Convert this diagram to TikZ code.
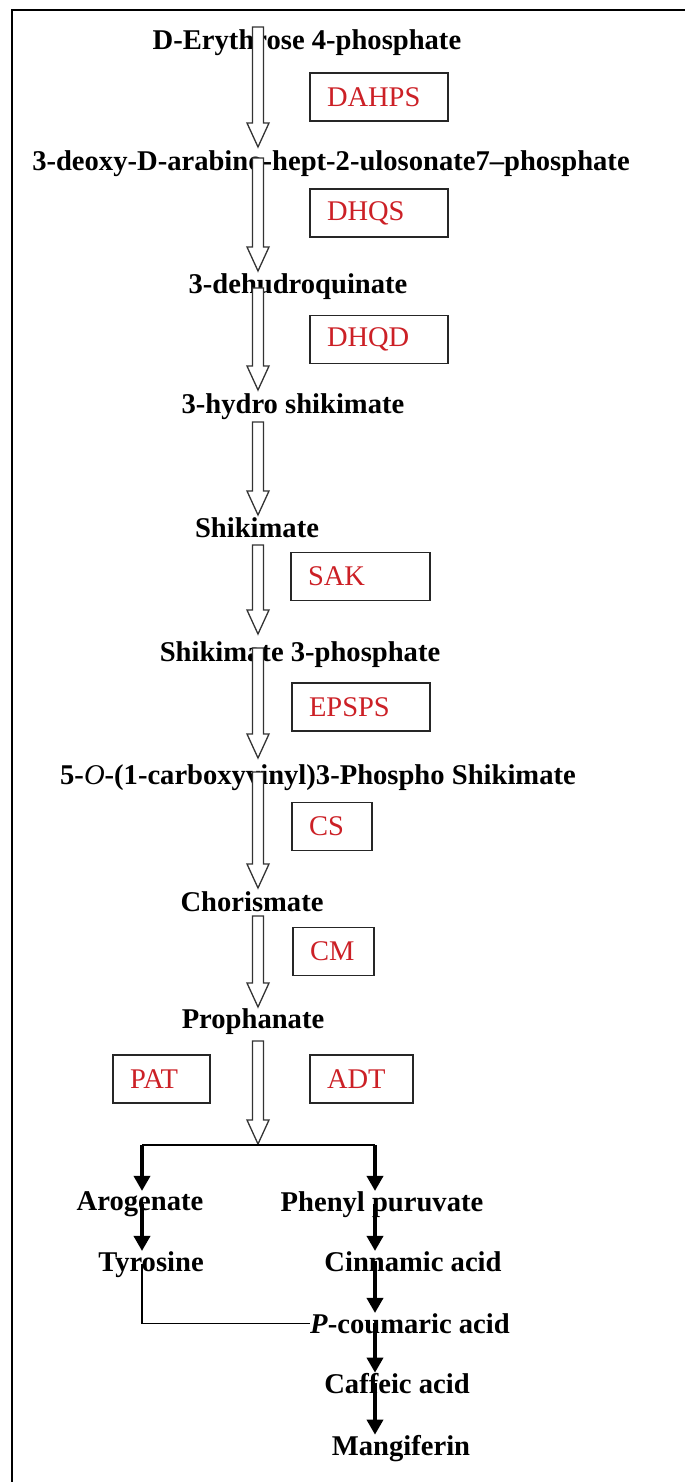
\documentclass[tikz,border=0pt]{standalone}
\usepackage{fontspec}
\setmainfont{Liberation Serif}
\usetikzlibrary{arrows.meta,calc}
\definecolor{enzred}{RGB}{204,32,38}
\newcommand{\hollowarr}[2]{%
  \draw[hollow] let \p1=(#1), \p2=(#2) in
    ({\x1-5.5pt},{\y1}) -- ({\x1+5.5pt},{\y1}) -- ({\x1+5.5pt},{\y2+24pt}) --
    ({\x1+11pt},{\y2+24pt}) -- ({\x1},{\y2}) -- ({\x1-11pt},{\y2+24pt}) --
    ({\x1-5.5pt},{\y2+24pt}) -- cycle;}
\begin{document}
\begin{tikzpicture}[x=1pt,y=-1pt,
  lbl/.style={anchor=base,inner sep=0pt,font=\fontsize{28.6}{30}\selectfont\bfseries},
  ebox/.style={draw=black!85,line width=1.8pt,inner xsep=17pt,inner ysep=0pt,align=left,
    text=enzred,font=\fontsize{28.5}{30}\selectfont,minimum height=48pt},
  hollow/.style={draw=black!80,line width=1.3pt,fill=white,line join=miter},
  tarrow/.style={line width=3.5pt,-{Triangle[width=16pt,length=15pt]}},
  thinline/.style={line width=1.4pt},
  frame/.style={line width=2.6pt}]
\useasboundingbox (0,0) rectangle (685,1482);
\fill[white] (0,0) rectangle (685,1482);
% frame (left and top edges)
\coordinate (fBL) at (12,1482);
\coordinate (fTL) at (12,10);
\coordinate (fTR) at (685,10);
\draw[frame] (fBL) -- (fTL) -- (fTR);

% metabolite labels
\node[lbl] (ery)   at (307,50)   {D-Erythrose 4-phosphate};
\node[lbl] (deoxy) at (331,171)  {3-deoxy-D-arabino-hept-2-ulosonate7–phosphate};
\node[lbl] (dehyd) at (298,293)  {3-dehudroquinate};
\node[lbl] (hydro) at (293,413)  {3-hydro shikimate};
\node[lbl] (shik)  at (257,537)  {Shikimate};
\node[lbl] (s3p)   at (300,661)  {Shikimate 3-phosphate};
\node[lbl] (epsp)  at (318,784)  {5-{\mdseries\itshape O}-(1-carboxyvinyl)3-Phospho Shikimate};
\node[lbl] (chor)  at (252,911)  {Chorismate};
\node[lbl] (proph) at (253,1028) {Prophanate};
\node[lbl] (aro)   at (140,1210) {Arogenate};
\node[lbl] (phen)  at (382,1211) {Phenyl puruvate};
\node[lbl] (tyr)   at (151,1271) {Tyrosine};
\node[lbl] (cinn)  at (413,1271) {Cinnamic acid};
\node[lbl] (pcou)  at (410,1333) {\textit{P}-coumaric acid};
\node[lbl] (caff)  at (397,1393) {Caffeic acid};
\node[lbl] (mang)  at (401,1455) {Mangiferin};

% enzyme boxes
\node[ebox,minimum width=138pt,text width=104pt] (dahps) at (379,97)   {DAHPS};
\node[ebox,minimum width=138pt,text width=104pt] (dhqs)  at (379,213)  {DHQS};
\node[ebox,minimum width=138pt,text width=104pt] (dhqd)  at (379,339.5){DHQD};
\node[ebox,minimum width=139pt,text width=105pt] (sak)   at (360.5,576.5){SAK};
\node[ebox,minimum width=138pt,text width=104pt] (epsps) at (361,707)  {EPSPS};
\node[ebox,minimum width=80pt,text width=46pt]   (cs)    at (332,826.5){CS};
\node[ebox,minimum width=81pt,text width=47pt]   (cm)    at (333.5,951.5){CM};
\node[ebox,minimum width=97pt,text width=63pt]   (pat)   at (161.5,1079){PAT};
\node[ebox,minimum width=103pt,text width=69pt]  (adt)   at (361.5,1079){ADT};

% hollow arrows of the main chain
\coordinate (h1s) at (258,27);   \coordinate (h1e) at (258,147);
\coordinate (h2s) at (258,158);  \coordinate (h2e) at (258,271);
\coordinate (h3s) at (258,288);  \coordinate (h3e) at (258,390);
\coordinate (h4s) at (258,422);  \coordinate (h4e) at (258,515);
\coordinate (h5s) at (258,545);  \coordinate (h5e) at (258,634);
\coordinate (h6s) at (258,648);  \coordinate (h6e) at (258,758);
\coordinate (h7s) at (258,772);  \coordinate (h7e) at (258,888);
\coordinate (h8s) at (258,916);  \coordinate (h8e) at (258,1007);
\coordinate (h9s) at (258,1041); \coordinate (h9e) at (258,1144);
\hollowarr{h1s}{h1e}
\hollowarr{h2s}{h2e}
\hollowarr{h3s}{h3e}
\hollowarr{h4s}{h4e}
\hollowarr{h5s}{h5e}
\hollowarr{h6s}{h6e}
\hollowarr{h7s}{h7e}
\hollowarr{h8s}{h8e}
\hollowarr{h9s}{h9e}

% branch
\coordinate (bL) at (142,1145);
\coordinate (bR) at (375,1145);
\draw[line width=2pt] (bL) -- (bR);
\draw[tarrow] (bL) -- (bL |- aro.north);
\draw[tarrow] (bR) -- (bR |- phen.north);
\draw[tarrow] (bL |- aro.center) -- (bL |- tyr.north);
\draw[tarrow] (bR |- phen.center) -- (bR |- cinn.north);
\draw[tarrow] (bR |- cinn.center) -- (bR |- pcou.north);
\draw[tarrow] (bR |- pcou.center) -- (bR |- caff.north);
\draw[tarrow] (bR |- caff.center) -- (bR |- mang.north);
\draw[thinline] (bL |- tyr.center) -- (bL |- pcou.west) -- (pcou.west);
\end{tikzpicture}
\end{document}
